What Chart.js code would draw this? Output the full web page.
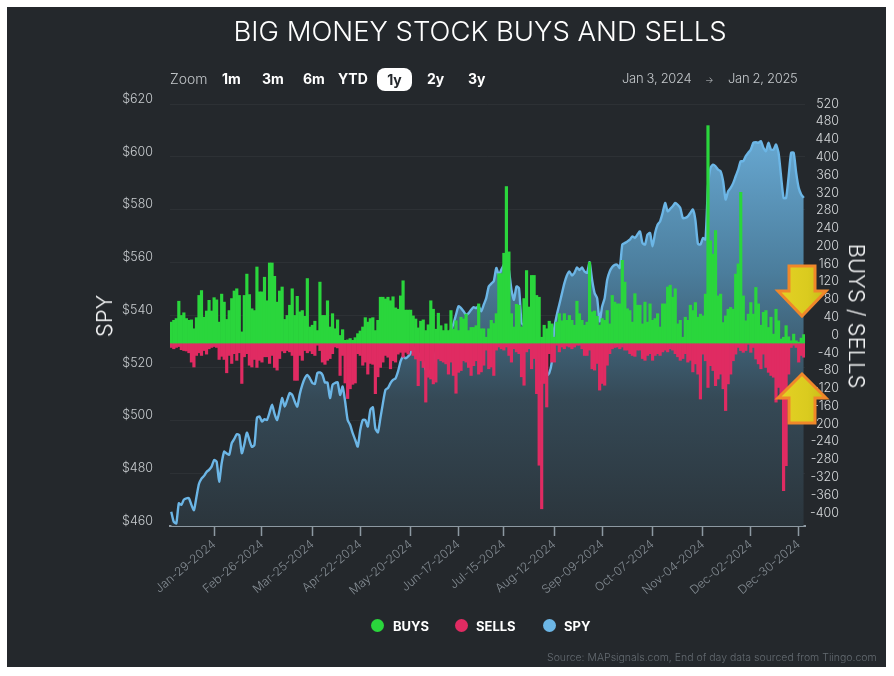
<!DOCTYPE html>
<html>
<head>
<meta charset="utf-8">
<title>Big Money Stock Buys and Sells</title>
<script src="https://cdn.jsdelivr.net/npm/chart.js@4"></script>
<style>
  html, body { margin: 0; padding: 0; background: #fff; }
  body { width: 894px; height: 676px; position: relative; overflow: hidden; font-family: Inter, "Open Sans", sans-serif; }
  #panel { position: absolute; left: 7px; top: 7px; width: 879px; height: 660px; background: #24282c; }
  #chart { position: absolute; left: 0; top: 0; }
  .txt { position: absolute; white-space: nowrap; line-height: 1; }
  .title { left: 7px; width: 946px; top: 18px; font-size: 27.5px; font-weight: 300; color: #fff; text-align: center; }
  .zoom { top: 72px; font-size: 14px; color: #fff; font-weight: 700; }
  .zoom.label { font-weight: 300; color: #c4c8cb; }
  .zoom.on { left: 377px; top: 68px; width: 35px; height: 23px; line-height: 23px; text-align: center; background: #fff; color: #24282c; border-radius: 8px; }
  .range { top: 72px; font-size: 13px; letter-spacing: -0.3px; font-weight: 300; color: #c4c8cb; }
  .axis-title { top: 316px; font-size: 22px; font-weight: 300; color: #f2f3f4; }
  .dot { position: absolute; top: 619px; width: 13px; height: 13px; border-radius: 50%; }
  .leg { top: 620px; font-size: 13px; font-weight: 700; color: #fff; }
  .source { left: 547px; top: 653px; font-size: 10.5px; font-weight: 300; color: #646b71; }
</style>
</head>
<body>
<div id="panel"></div>
<canvas id="chart" width="894" height="676"></canvas>

<div class="txt title">BIG MONEY STOCK BUYS AND SELLS</div>

<div class="txt zoom label" style="left:170px">Zoom</div>
<div class="txt zoom" style="left:222px">1m</div>
<div class="txt zoom" style="left:262px">3m</div>
<div class="txt zoom" style="left:303px">6m</div>
<div class="txt zoom" style="left:338px">YTD</div>
<div class="txt zoom on">1y</div>
<div class="txt zoom" style="left:427px">2y</div>
<div class="txt zoom" style="left:468px">3y</div>
<div class="txt range" style="left:622px">Jan 3, 2024</div>
<div class="txt range" style="left:705px;font-size:9px;top:75px">→</div>
<div class="txt range" style="left:728px">Jan 2, 2025</div>

<div class="txt axis-title" style="left:104px;transform:translate(-50%,-50%) rotate(-90deg)">SPY</div>
<div class="txt axis-title" style="left:857px;transform:translate(-50%,-50%) rotate(90deg)">BUYS / SELLS</div>

<div class="dot" style="left:371px;background:#2ad63c"></div>
<div class="txt leg" style="left:393px">BUYS</div>
<div class="dot" style="left:455px;background:#e02b62"></div>
<div class="txt leg" style="left:476px">SELLS</div>
<div class="dot" style="left:543px;background:#6cb6e6"></div>
<div class="txt leg" style="left:564px">SPY</div>

<div class="txt source">Source: MAPsignals.com, End of day data sourced from Tiingo.com</div>

<script>
// market holidays, the categories are every other weekday in the range
const holidays = ['2024-01-15', '2024-02-19', '2024-03-29', '2024-05-27', '2024-06-19', '2024-07-04', '2024-09-02', '2024-11-28', '2024-12-25', '2025-01-01'];
const monthNames = ['Jan', 'Feb', 'Mar', 'Apr', 'May', 'Jun', 'Jul', 'Aug', 'Sep', 'Oct', 'Nov', 'Dec'];

const tickLabels = ['Jan-29-2024', 'Feb-26-2024', 'Mar-25-2024', 'Apr-22-2024', 'May-20-2024', 'Jun-17-2024', 'Jul-15-2024', 'Aug-12-2024', 'Sep-09-2024', 'Oct-07-2024', 'Nov-04-2024', 'Dec-02-2024', 'Dec-30-2024'];
const spyTicks = [460, 480, 500, 520, 540, 560, 580, 600, 620];
const flowTicks = [-400, -360, -320, -280, -240, -200, -160, -120, -80, -40, 0, 40, 80, 120, 160, 200, 240, 280, 320, 360, 400, 440, 480, 520];

const buys = [
  47,51,55,94,62,68,55,51,52,32, 57,107,118,58,72,96,72,102,97,47,
  110,92,53,73,100,117,122,107,25,107, 155,109,77,73,171,115,115,148,95,180,
  180,150,92,117,126,53,62,85,122,62, 105,70,73,60,145,36,40,49,28,137,
  62,62,95,36,66,32,52,17,30,6, 7,10,6,12,21,27,36,57,47,55,
  57,28,51,
  103,103,99,103,95,104,79,76,106,140, 74,74,74,61,54,34,49,52,28,41,
  95,76,31,67,39,28,43,28,73,31, 50,28,58,54,65,28,
  35,35,39,88,
  32,32,13,32,51,44,66,156,156,202, 352,205,66,36,87,85,36,100,163,81,
  152,152,107,103,13,40,32,49,43,13, 47,66,50,66,51,62,51,40,94,66,
  51,40,
  47,182,70,72,60,40,55,51,73,43, 107,92,88,88,186,137,77,73,47,111,
  85,85,43,92,47,88,51,55,66,36, 88,88,126,130,103,122,43,51,13,58,
  51,85,73,
  91,58,65,61,110,489,230,200,253,106, 110,46,61,76,80,76,155,178,339,106,
  50,65,91,65,125,88,40,69,73,35, 58,20,76,50,9,13,39,14,5,20,
  5,2,11,19
];

const sells = [
  10,13,10,8,15,17,18,22,43,54, 28,22,28,17,25,13,10,8,10,37,
  30,37,67,28,46,24,39,22,91,31, 24,50,54,37,55,39,43,31,31,46,
  28,55,61,35,18,22,17,20,28,84, 84,28,39,17,22,18,24,28,5,17,
  43,48,39,35,24,9,11,73,28,90, 125,103,93,90,24,28,50,43,70,46,
  48,114,76,
  55,43,28,32,58,40,43,25,21,32, 21,25,17,28,36,96,40,55,133,77,
  81,92,88,36,40,43,47,70,43,73, 113,66,62,40,43,55,73,51,40,70,
  65,50,16,58,54,73,16,9,13,16, 9,28,43,13,20,24,76,95,20,13,
  58,35,114,275,373,91,144,24,43,43, 5,20,9,13,7,9,13,9,5,5,
  13,28,
  28,16,58,61,46,106,91,95,50,24, 13,10,9,13,9,16,16,24,28,30,
  16,16,35,39,28,24,39,28,24,28, 20,16,20,13,16,24,31,39,35,24,
  43,39,65,
  47,70,126,25,40,100,51,62,96,81, 70,103,152,92,70,40,25,10,17,21,
  17,3,21,10,36,47,58,25,55,66, 73,77,133,100,126,332,276,70,10,5,
  10,43,28,32
];

const spy = [
  465.4,461.6,461,468.6,468,470,470.5,470.5,468,466, 471,476,478,479,480.5,481.3,482.5,485,484.4,476.8,
  483.8,488.2,487.5,487,491.4,493,494.8,494.5,487.6,491, 495.4,492.6,490,490.7,501,501.5,499.6,500.5,500.2,503,
  506,502.5,
  500.2,504,508.5,505.3,507.8,510.4,509.7,507.2,505.3,510, 513.5,516,517.3,516,514.2,513.9,518,518.2,517.3,514.4,
  514.4,508.5,513.5,514.2,514.5,509.7,512.9,507.2,500.2,498.3, 495.2,492.7,490.1,496.4,500.2,500.2,497.7,504,505,497,
  495.5,
  500.9,506.6,511.6,512.3,514.2,515.4,516,518.6,522.4,524.3, 523.6,524.3,525.5,528,526.2,525.5,524.3,522.4,519.2,518,
  519.2,521.8,526.2,528.7,530,530,530.6,531.9,534.4,536.7, 540.1,543.3,542.6,541.4,540.1,540.7,542,543,542.6,543.3,
  541.4,543.9,546.4,550.8,551.9,552.8,557.8,555.3,557.2,559, 561,557,549.6,545.8,550.8,550.2,537,536,531,533,
  536,531,522,514,515,518,517,518,522,535, 540,544,548,552,555,556.5,555,556,558,557,
  558,556.5,556,560,
  553.4,548.3,546.4,537.6,543.2,546.4,553.4,556.5,558.2,559, 559,557.8,566.7,567.3,567.9,568.6,569.8,569.2,570.5,571.7,
  567.3,566.7,570.5,571.1,566,571,574.2,575.5,578.7,582.5, 579.3,580.2,581.2,582.5,581.8,580.6,576.8,576.8,577.4,578.7,
  580,
  576,567,566.7,569.2,568.6,588.8,595.8,597,596.4,595.1, 594.5,590.7,583.8,586.9,588.2,590,592.6,595.1,598.3,598.3,
  600.2,601.5,602.7,605.3,605.5,605.3,605.9,603.4,602.1,605.3, 602.7,602.7,604.6,601.5,592.6,584.4,584.4,592.6,601.5,601.5,
  593.9,588.2,585.7,584.4
];

function buildCategories() {
  const out = [];
  const day = new Date(Date.UTC(2024, 0, 3));
  const last = Date.UTC(2025, 0, 2);
  while (day.getTime() <= last) {
    const iso = day.toISOString().slice(0, 10);
    const wd = day.getUTCDay();
    if (wd !== 0 && wd !== 6 && !holidays.includes(iso)) {
      out.push(monthNames[day.getUTCMonth()] + '-' + iso.slice(8, 10) + '-' + iso.slice(0, 4));
    }
    day.setUTCDate(day.getUTCDate() + 1);
  }
  return out;
}

const categories = buildCategories();

function spyFill(ctx) {
  const area = ctx.chart.chartArea;
  if (!area) return 'transparent';
  const g = ctx.chart.ctx.createLinearGradient(0, area.top, 0, area.bottom);
  g.addColorStop(0, '#6eb2de');
  g.addColorStop(0.4, '#4b7d9c');
  g.addColorStop(0.7, '#354956');
  g.addColorStop(1, '#2b353c');
  return g;
}

function drawArrow(c, points) {
  const g = c.createLinearGradient(780, 0, 826, 0);
  g.addColorStop(0, '#e4d124');
  g.addColorStop(0.6, '#dacb1f');
  g.addColorStop(1, '#c6bc18');
  c.beginPath();
  points.forEach(function(p, i) {
    if (i === 0) c.moveTo(p[0], p[1]);
    else c.lineTo(p[0], p[1]);
  });
  c.closePath();
  c.fillStyle = g;
  c.fill();
  c.lineWidth = 3;
  c.lineJoin = 'miter';
  c.strokeStyle = '#f0872a';
  c.stroke();
}

// the two callout arrows pasted over the right edge of the chart
const arrowPlugin = {
  id: 'arrows',
  afterDraw: function(chart) {
    const c = chart.ctx;
    c.save();
    drawArrow(c, [[789, 266], [815, 266], [815, 291], [826, 291], [802, 316], [778, 291], [789, 291]]);
    drawArrow(c, [[802, 374], [826, 398], [815, 398], [815, 423], [789, 423], [789, 398], [778, 398]]);
    c.restore();
  }
};

new Chart(document.getElementById('chart'), {
  type: 'bar',
  plugins: [arrowPlugin],
  data: {
    labels: categories,
    datasets: [
      { label: 'BUYS', data: buys, yAxisID: 'yFlow', backgroundColor: '#2ad63c', grouped: false, barPercentage: 1, categoryPercentage: 1, order: 1 },
      { label: 'SELLS', data: sells.map(function(v) { return -v; }), yAxisID: 'yFlow', backgroundColor: '#e02b62', grouped: false, barPercentage: 1, categoryPercentage: 1, order: 1 },
      { label: 'SPY', type: 'line', data: spy, yAxisID: 'ySpy', borderColor: '#6cb6e6', borderWidth: 2.4, backgroundColor: spyFill, fill: 'start', tension: 0.2, pointRadius: 0, order: 2 }
    ]
  },
  options: {
    responsive: false,
    animation: false,
    events: [],
    layout: { padding: { left: 120, right: 55, top: 104, bottom: 50 } },
    plugins: { legend: { display: false }, title: { display: false }, tooltip: { enabled: false } },
    scales: {
      x: {
        afterFit: function(scale) { scale.height = 100; },
        afterBuildTicks: function(scale) {
          scale.ticks = scale.ticks.filter(function(t) { return tickLabels.includes(categories[t.value]); });
        },
        border: { display: true, color: '#8d99a2', width: 2 },
        grid: { offset: false, drawOnChartArea: false, drawTicks: true, tickLength: 10, tickColor: '#8d99a2', tickWidth: 1.5 },
        ticks: { autoSkip: false, minRotation: 40, maxRotation: 40, padding: 1, color: '#848c93', font: { family: 'Inter', size: 12, weight: 300 } }
      },
      ySpy: {
        position: 'left',
        min: 460,
        max: 620,
        afterFit: function(scale) { scale.width = 50; },
        afterBuildTicks: function(scale) {
          scale.ticks = spyTicks.map(function(v) { return { value: v }; });
        },
        border: { display: false },
        grid: { color: 'rgba(255,255,255,0.045)', drawTicks: false },
        ticks: {
          padding: 17,
          labelOffset: -5,
          color: '#c9cdd0',
          font: { family: 'Inter', size: 12.5, weight: 300 },
          callback: function(v) { return '$' + v; }
        }
      },
      yFlow: {
        position: 'right',
        min: -411.7,
        max: 537.7,
        afterFit: function(scale) { scale.width = 34; },
        afterBuildTicks: function(scale) {
          scale.ticks = flowTicks.map(function(v) { return { value: v }; });
        },
        border: { display: false },
        grid: { display: false, drawTicks: false },
        ticks: {
          crossAlign: 'far',
          labelOffset: -8,
          color: '#d9dcde',
          font: { family: 'Inter', size: 12.5, weight: 300 },
          callback: function(v) { return String(v); }
        }
      }
    }
  }
});
</script>
</body>
</html>
